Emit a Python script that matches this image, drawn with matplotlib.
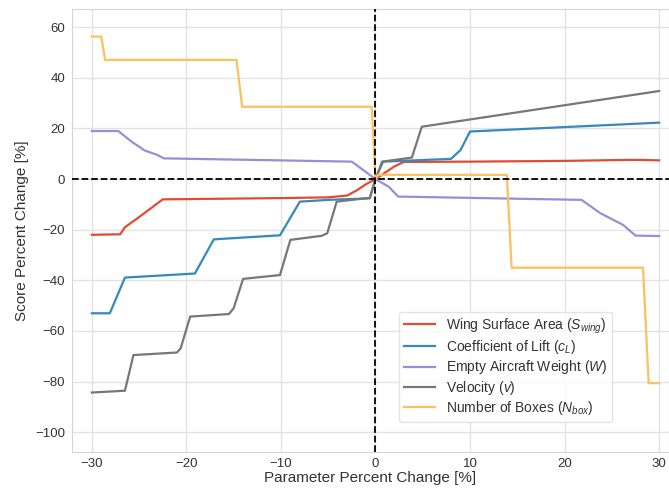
import matplotlib
matplotlib.use("Agg")
import matplotlib.pyplot as plt

plt.rcParams['font.family'] = ['Liberation Sans', 'DejaVu Sans']
plt.rcParams['mathtext.fontset'] = 'custom'
plt.rcParams['mathtext.rm'] = 'Liberation Sans'
plt.rcParams['mathtext.it'] = 'Liberation Sans:italic'

# Wing Surface Area
wing_x = [-30, -27, -26.5, -25, -22.5, -10, -5, -3, -2, -1, 0, 1, 2, 3, 10, 20, 27, 28, 30]
wing_y = [-22, -21.8, -19, -15, -8, -7.5, -7.2, -6.5, -4.5, -2, 0, 2.5, 5, 6.8, 6.9, 7.2, 7.6, 7.6, 7.4]

# Coefficient of Lift
cl_x = [-30, -28.1, -26.5, -19.1, -17.1, -10.1, -8.0, -5, -0.6, 0, 0.8, 8, 9, 10, 30]
cl_y = [-53, -53, -38.9, -37.3, -23.8, -22.2, -8.9, -8.2, -7.6, 0, 6.9, 8.0, 11.5, 18.8, 22.3]

# Empty Aircraft Weight
w_x = [-30, -27.2, -25.8, -24.4, -23.1, -22.4, -2.5, 0, 1.4, 2.4, 21.8, 23.8, 26.2, 27.5, 30]
w_y = [19.0, 19.0, 14.8, 11.3, 9.6, 8.2, 6.9, 0, -3.0, -6.9, -8.2, -13.5, -18.1, -22.3, -22.5]

# Velocity
v_x = [-30, -26.5, -25.6, -21, -20.6, -19.6, -15.5, -15, -14, -10.1, -9.0, -5.7, -5.1, -4.1,
       -0.6, 0, 0.7, 3.85, 4.9, 30]
v_y = [-84.3, -83.6, -69.5, -68.5, -66.8, -54.3, -53.3, -51, -39.4, -37.9, -24.0, -22.4, -21.4, -8.9,
       -7.4, 0, 6.9, 8.5, 20.7, 34.8]

# Number of Boxes
nb_x = [-30, -29.0, -28.6, -14.7, -14.1, -0.4, 0, 0.3, 13.9, 14.4, 28.3, 28.9, 30]
nb_y = [56.3, 56.3, 47.1, 47.1, 28.6, 28.6, 0, 1.7, 1.7, -35.0, -35.0, -80.6, -80.6]

labels = ['Wing Surface Area ($S_{wing}$)', 'Coefficient of Lift ($c_L$)',
          'Empty Aircraft Weight ($W$)', 'Velocity ($v$)', 'Number of Boxes ($N_{box}$)']
colors = ['#E24A33', '#348ABD', '#988ED5', '#777777', '#FBC15E']

fig = plt.figure(figsize=(6.69, 4.90), dpi=100)
ax = fig.add_axes([72/669, 1 - 452/490, 1 - 72/669, (452 - 9)/490])

series = [(wing_x, wing_y), (cl_x, cl_y), (w_x, w_y), (v_x, v_y), (nb_x, nb_y)]
for (xs, ys), lab, c in zip(series, labels, colors):
    ax.plot(xs, ys, color=c, lw=1.6, label=lab)

ax.axhline(0, color='black', ls='--', lw=1.3, zorder=5)
ax.axvline(0, color='black', ls='--', lw=1.3, zorder=5)

ax.set_xlim(-32.1, 31.05)
ax.set_ylim(-107.8, 67.2)
ax.set_xticks([-30, -20, -10, 0, 10, 20, 30])
ax.set_yticks([-100, -80, -60, -40, -20, 0, 20, 40, 60])

ax.grid(True, color='#e3e3e3', lw=1)
ax.set_axisbelow(True)
for s in ax.spines.values():
    s.set_color('#d5d5d5')
ax.tick_params(axis='y', length=0, labelsize=9.5, colors='#333333', pad=5)
ax.tick_params(axis='x', length=0, labelsize=9.5, colors='#333333', pad=4)
ax.set_xlabel('Parameter Percent Change [%]', fontsize=11, color='#333333', labelpad=1)
ax.set_ylabel('Score Percent Change [%]', fontsize=11, color='#333333', labelpad=4)

leg = ax.legend(loc='lower right', bbox_to_anchor=(0.9045, 0.0677), borderaxespad=0,
                fontsize=10, frameon=True, fancybox=True, framealpha=0.8, edgecolor='#dddddd',
                handlelength=2.2, labelspacing=0.17, borderpad=0.35)
leg.get_frame().set_linewidth(1)
for t in leg.get_texts():
    t.set_color('#333333')

fig.savefig('out.png', dpi=100)
